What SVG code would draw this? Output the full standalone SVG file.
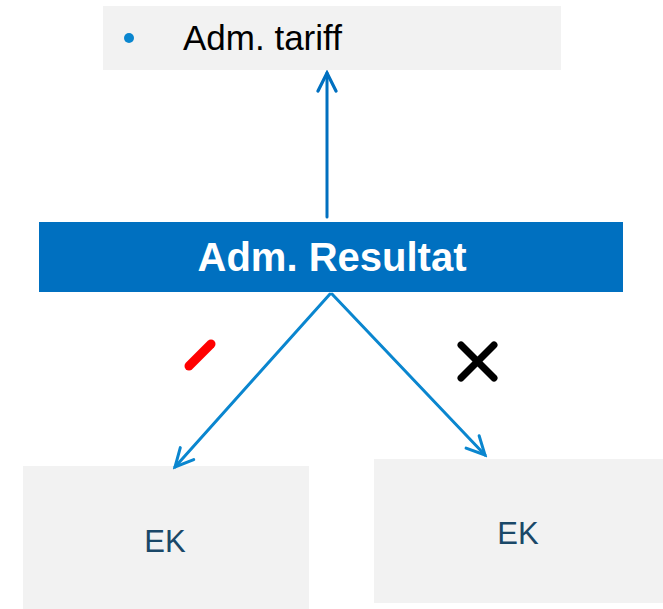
<svg xmlns="http://www.w3.org/2000/svg" width="663" height="609" viewBox="0 0 663 609">
<style>
.box{fill:#f2f2f2}
.lbl{font-family:"Liberation Sans",Arial,sans-serif;fill:#1a4868;font-size:31px;text-anchor:middle}
.conn{fill:none;stroke-width:3;stroke-linecap:round}
</style>
<defs>
<marker id="ahB" viewBox="0 0 24 24" refX="21" refY="12" markerWidth="24" markerHeight="24" markerUnits="userSpaceOnUse" orient="auto">
<path d="M3,3 L21,12 L3,21" fill="none" stroke="#0a86cf" stroke-width="3" stroke-linecap="round"/>
</marker>
<marker id="ahD" viewBox="0 0 24 24" refX="21" refY="12" markerWidth="24" markerHeight="24" markerUnits="userSpaceOnUse" orient="auto">
<path d="M3,3 L21,12 L3,21" fill="none" stroke="#0070c0" stroke-width="3.2" stroke-linecap="round"/>
</marker>
</defs>
<rect width="663" height="609" fill="#ffffff"/>
<g id="tariff">
<rect class="box" x="103" y="6" width="458" height="64"/>
<circle cx="129" cy="38" r="5" fill="#0a86cf"/>
<text x="183" y="50" font-family="'Liberation Sans',Arial,sans-serif" font-size="35" fill="#000000">Adm. tariff</text>
</g>
<g id="resultat">
<rect x="39" y="222" width="584" height="70" fill="#0070c0"/>
<text x="332" y="271" font-family="'Liberation Sans',Arial,sans-serif" font-size="40" font-weight="bold" fill="#ffffff" text-anchor="middle">Adm. Resultat</text>
</g>
<g id="ek-left">
<rect class="box" x="23" y="466" width="286" height="143"/>
<text class="lbl" x="165" y="552">EK</text>
</g>
<g id="ek-right">
<rect class="box" x="374" y="459" width="289" height="144"/>
<text class="lbl" x="518" y="544">EK</text>
</g>
<g id="connectors">
<line class="conn" x1="327" y1="217" x2="327" y2="73" stroke="#0070c0" marker-end="url(#ahD)"/>
<line class="conn" x1="330" y1="294" x2="175" y2="467" stroke="#0a86cf" marker-end="url(#ahB)"/>
<line class="conn" x1="332" y1="294" x2="485" y2="455" stroke="#0a86cf" marker-end="url(#ahB)"/>
</g>
<g id="signs">
<line x1="189" y1="366" x2="211" y2="344" stroke="#ff0000" stroke-width="9" stroke-linecap="round"/>
<line x1="461" y1="345" x2="494" y2="378" stroke="#000000" stroke-width="7" stroke-linecap="round"/>
<line x1="494" y1="345" x2="461" y2="378" stroke="#000000" stroke-width="7" stroke-linecap="round"/>
</g>
</svg>
